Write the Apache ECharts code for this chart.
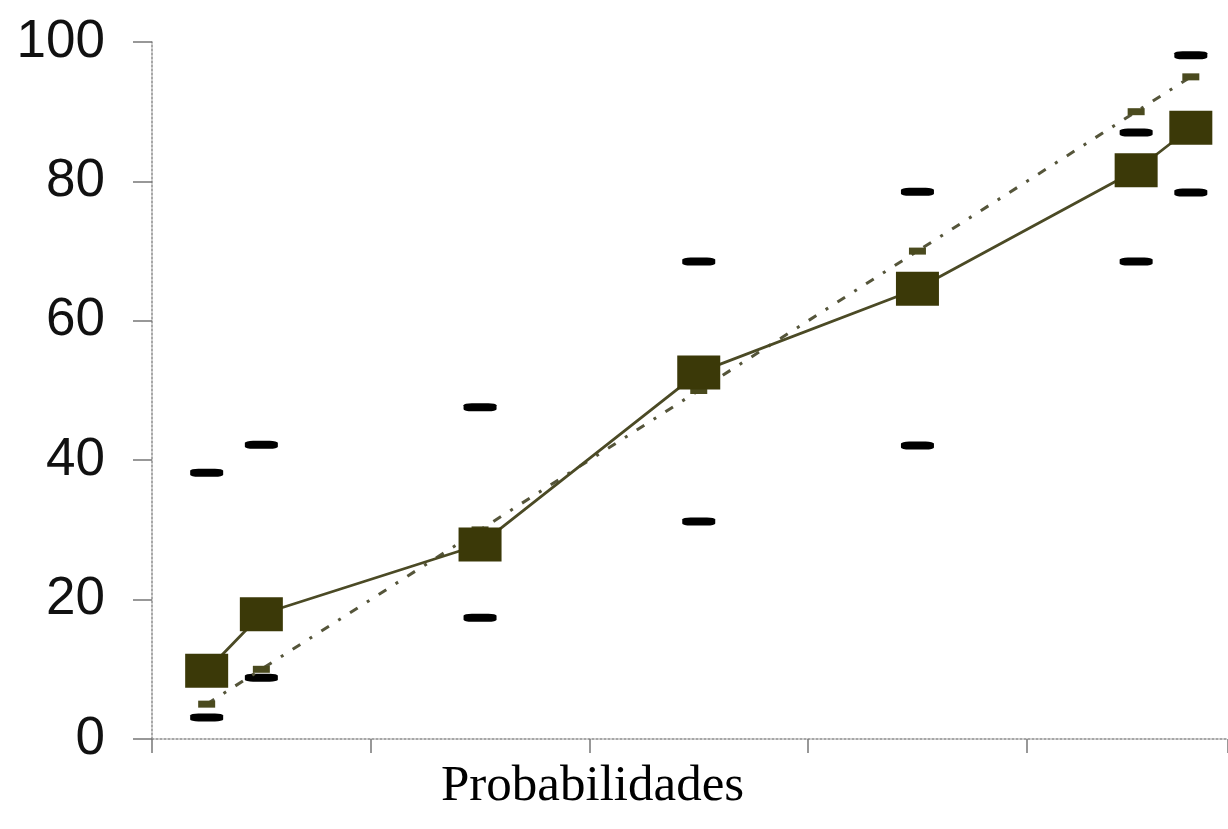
<!DOCTYPE html>
<html>
<head>
<meta charset="utf-8">
<script src="https://cdn.jsdelivr.net/npm/echarts@6/dist/echarts.min.js"></script>
<style>html,body{margin:0;padding:0;background:#fff}#c{width:1228px;height:829px}</style>
</head>
<body>
<div id="c"></div>
<script>
const probs = [0.05, 0.1, 0.3, 0.5, 0.7, 0.9, 0.95];
const observed = [9.8, 17.9, 27.9, 52.6, 64.6, 81.6, 87.7];
const expected = [5, 10, 30, 50, 70, 90, 95];
const upper = [38.2, 42.2, 47.6, 68.5, 78.5, 87.0, 98.1];
const lower = [3.1, 8.8, 17.4, 31.2, 42.1, 68.5, 78.4];
const yTicks = [0, 20, 40, 60, 80, 100];
const xName = 'Probabilidades';

const zip = (xs, ys) => xs.map((x, i) => [x, ys[i]]);
const chart = echarts.init(document.getElementById('c'), null, {renderer: 'canvas'});
const axisGray = '#8a8a8a';
chart.setOption({
  animation: false,
  backgroundColor: '#fff',
  title: {
    text: xName, left: 436, top: 756,
    textStyle: {fontFamily: 'Liberation Serif', fontWeight: 'normal', fontSize: 51, color: '#000'}
  },
  grid: {left: 152, right: 0, top: 42, bottom: 90, containLabel: false},
  xAxis: {
    type: 'value', min: 0, max: 0.984, interval: 0.2,
    axisLine: {show: true, lineStyle: {color: axisGray, width: 1.5, type: [2, 2]}},
    axisTick: {show: true, length: 14, lineStyle: {color: '#777', width: 1.5}},
    axisLabel: {show: false},
    splitLine: {show: false}
  },
  yAxis: {
    type: 'value', min: yTicks[0], max: yTicks[yTicks.length - 1], interval: 20,
    axisLine: {show: true, lineStyle: {color: axisGray, width: 1.5, type: [2, 2]}},
    axisTick: {show: true, length: 19, lineStyle: {color: '#777', width: 1.5}},
    axisLabel: {fontFamily: 'Liberation Sans', fontSize: 53, color: '#111', margin: 47},
    splitLine: {show: false}
  },
  series: [
    {
      name: 'upper', type: 'scatter', data: zip(probs, upper),
      symbol: 'roundRect', symbolSize: [33, 8], itemStyle: {color: '#000', opacity: 1}, z: 3
    },
    {
      name: 'lower', type: 'scatter', data: zip(probs, lower),
      symbol: 'roundRect', symbolSize: [33, 8], itemStyle: {color: '#000', opacity: 1}, z: 3
    },
    {
      name: 'expected', type: 'line', data: zip(probs, expected),
      symbol: 'rect', symbolSize: [17, 7], showSymbol: true,
      itemStyle: {color: '#4a4a1e', opacity: 1},
      lineStyle: {color: '#55553a', width: 3, type: [9, 11, 3, 11]}, z: 4
    },
    {
      name: 'observed', type: 'line', data: zip(probs, observed),
      symbol: 'rect', symbolSize: [43, 34],
      itemStyle: {color: '#3b3908', opacity: 1},
      lineStyle: {color: '#4b4a25', width: 2.8}, z: 5
    }
  ]
});
</script>
</body>
</html>
